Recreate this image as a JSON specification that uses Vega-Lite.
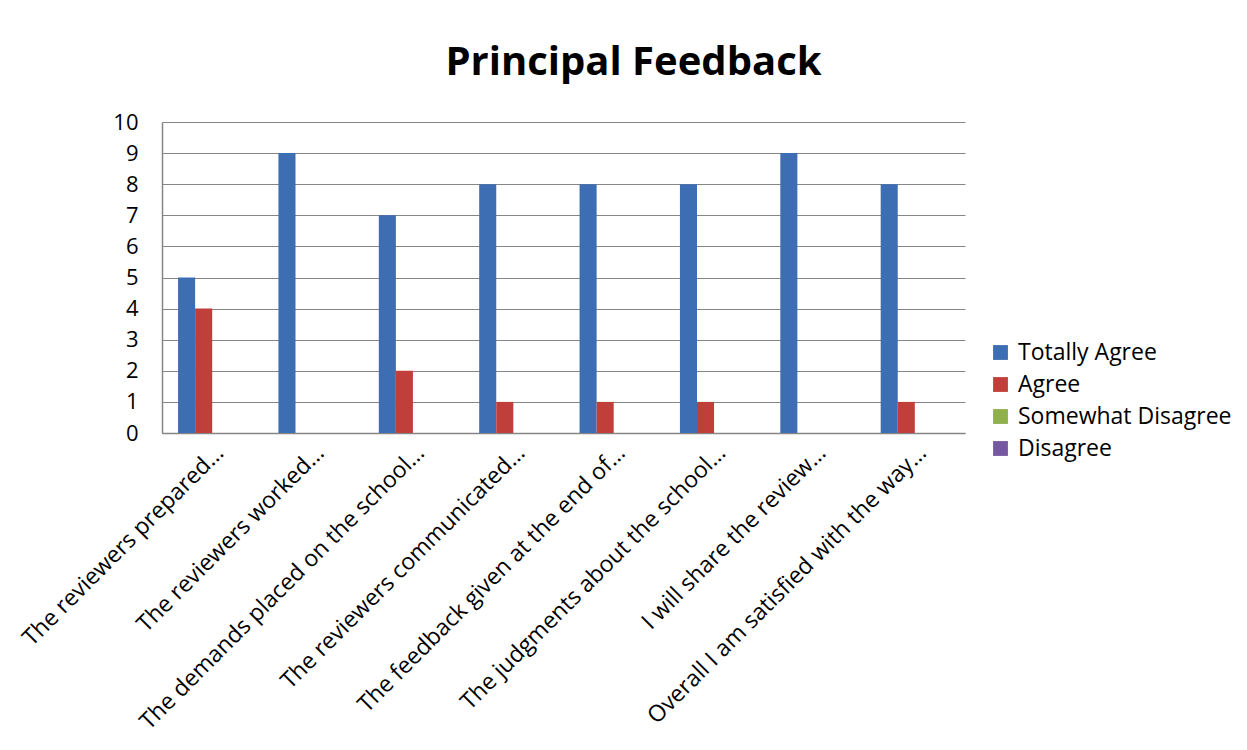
{
  "$schema": "https://vega.github.io/schema/vega-lite/v6.json",
  "autosize": {"type": "none"},
  "width": 803,
  "height": 311,
  "padding": {"left": 162, "top": 122, "right": 282, "bottom": 317},
  "background": "white",
  "title": {
    "text": "Principal Feedback",
    "font": "Open Sans",
    "fontSize": 40,
    "fontWeight": "bold",
    "color": "#000000",
    "anchor": "middle",
    "frame": "group",
    "dx": 70,
    "offset": 28
  },
  "data": {
    "values": [
      {"q": "The reviewers prepared…", "s": "Totally Agree", "v": 5},
      {"q": "The reviewers prepared…", "s": "Agree", "v": 4},
      {"q": "The reviewers prepared…", "s": "Somewhat Disagree", "v": 0},
      {"q": "The reviewers prepared…", "s": "Disagree", "v": 0},
      {"q": "The reviewers worked…", "s": "Totally Agree", "v": 9},
      {"q": "The reviewers worked…", "s": "Agree", "v": 0},
      {"q": "The reviewers worked…", "s": "Somewhat Disagree", "v": 0},
      {"q": "The reviewers worked…", "s": "Disagree", "v": 0},
      {"q": "The demands placed on the school…", "s": "Totally Agree", "v": 7},
      {"q": "The demands placed on the school…", "s": "Agree", "v": 2},
      {"q": "The demands placed on the school…", "s": "Somewhat Disagree", "v": 0},
      {"q": "The demands placed on the school…", "s": "Disagree", "v": 0},
      {"q": "The reviewers communicated…", "s": "Totally Agree", "v": 8},
      {"q": "The reviewers communicated…", "s": "Agree", "v": 1},
      {"q": "The reviewers communicated…", "s": "Somewhat Disagree", "v": 0},
      {"q": "The reviewers communicated…", "s": "Disagree", "v": 0},
      {"q": "The feedback given at the end of…", "s": "Totally Agree", "v": 8},
      {"q": "The feedback given at the end of…", "s": "Agree", "v": 1},
      {"q": "The feedback given at the end of…", "s": "Somewhat Disagree", "v": 0},
      {"q": "The feedback given at the end of…", "s": "Disagree", "v": 0},
      {"q": "The judgments about the school…", "s": "Totally Agree", "v": 8},
      {"q": "The judgments about the school…", "s": "Agree", "v": 1},
      {"q": "The judgments about the school…", "s": "Somewhat Disagree", "v": 0},
      {"q": "The judgments about the school…", "s": "Disagree", "v": 0},
      {"q": "I will share the review…", "s": "Totally Agree", "v": 9},
      {"q": "I will share the review…", "s": "Agree", "v": 0},
      {"q": "I will share the review…", "s": "Somewhat Disagree", "v": 0},
      {"q": "I will share the review…", "s": "Disagree", "v": 0},
      {"q": "Overall I am satisfied with the way…", "s": "Totally Agree", "v": 8},
      {"q": "Overall I am satisfied with the way…", "s": "Agree", "v": 1},
      {"q": "Overall I am satisfied with the way…", "s": "Somewhat Disagree", "v": 0},
      {"q": "Overall I am satisfied with the way…", "s": "Disagree", "v": 0}
    ]
  },
  "mark": {"type": "bar", "stroke": null},
  "encoding": {
    "x": {
      "field": "q",
      "type": "nominal",
      "sort": null,
      "title": null,
      "scale": {"paddingInner": 0.32, "paddingOuter": 0.16},
      "axis": {
        "labelAngle": -45,
        "labelFont": "Open Sans",
        "labelFontSize": 23,
        "labelColor": "#000000",
        "labelLimit": 500,
        "labelPadding": 8,
        "ticks": false,
        "domainColor": "#868686",
        "domainWidth": 1.5,
        "grid": false
      }
    },
    "xOffset": {
      "field": "s",
      "type": "nominal",
      "sort": ["Totally Agree", "Agree", "Somewhat Disagree", "Disagree"],
      "scale": {"paddingInner": 0, "paddingOuter": 0}
    },
    "y": {
      "field": "v",
      "type": "quantitative",
      "title": null,
      "scale": {"domain": [0, 10], "nice": false},
      "axis": {
        "values": [0, 1, 2, 3, 4, 5, 6, 7, 8, 9, 10],
        "labelFont": "Open Sans",
        "labelFontSize": 22,
        "labelColor": "#000000",
        "labelPadding": 24,
        "ticks": false,
        "domainColor": "#868686",
        "domainWidth": 1.5,
        "gridColor": "#868686",
        "gridWidth": 1.2
      }
    },
    "color": {
      "field": "s",
      "type": "nominal",
      "sort": ["Totally Agree", "Agree", "Somewhat Disagree", "Disagree"],
      "scale": {
        "domain": ["Totally Agree", "Agree", "Somewhat Disagree", "Disagree"],
        "range": ["#3d6db2", "#c03f3b", "#8fb04a", "#7658a0"]
      },
      "legend": {
        "title": null,
        "orient": "none",
        "legendX": 827,
        "legendY": 219,
        "symbolType": "square",
        "symbolSize": 220,
        "symbolStrokeWidth": 0,
        "labelFont": "Open Sans",
        "labelFontSize": 23,
        "labelColor": "#000000",
        "labelLimit": 400,
        "rowPadding": 8,
        "labelOffset": 6
      }
    }
  },
  "config": {
    "view": {"stroke": null}
  }
}
